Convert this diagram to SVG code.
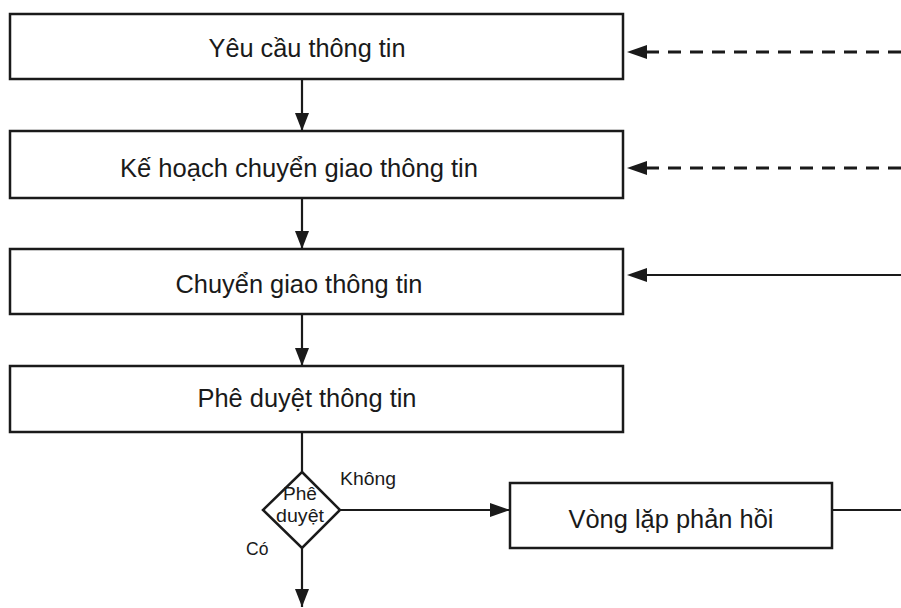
<svg xmlns="http://www.w3.org/2000/svg" width="901" height="608" viewBox="0 0 901 608">
  <style>
    .box { fill: #ffffff; stroke: #1a1a1a; stroke-width: 2.5; }
    .lbl { font-family: "Liberation Sans", Arial, sans-serif; font-size: 25px; fill: #1a1a1a; text-anchor: middle; }
    .small { font-family: "Liberation Sans", Arial, sans-serif; font-size: 17.5px; fill: #1a1a1a; }
    .line { fill: none; stroke: #1a1a1a; stroke-width: 2.2; }
    .dash { stroke-dasharray: 13 9; stroke-width: 3; }
    .head { fill: #1a1a1a; }
  </style>
  <rect width="901" height="608" fill="#ffffff"/>

  <g id="connectors">
    <!-- vertical flow -->
    <path class="line" d="M302,79 V131"/>
    <path class="line" d="M302,198 V249"/>
    <path class="line" d="M302,314 V366"/>
    <path class="line" d="M302,432 V472"/>
    <path class="line" d="M302,548 V607"/>
    <!-- decision to feedback loop -->
    <path class="line" d="M340,510 H510"/>
    <!-- inputs from the right -->
    <path class="line dash" d="M901,52 H645"/>
    <path class="line dash" d="M901,168 H645"/>
    <path class="line" d="M901,275 H645"/>
    <path class="line" d="M832,510 H901"/>
    <!-- arrowheads -->
    <path class="head" d="M302,131 L295,113 L309,113 z"/>
    <path class="head" d="M302,249 L295,231 L309,231 z"/>
    <path class="head" d="M302,366 L295,348 L309,348 z"/>
    <path class="head" d="M302,607 L295,589 L309,589 z"/>
    <path class="head" d="M510,510 L490,503 L490,517 z"/>
    <path class="head" d="M627,52 L647,45 L647,59 z"/>
    <path class="head" d="M627,168 L647,161 L647,175 z"/>
    <path class="head" d="M627,275 L647,268 L647,282 z"/>
  </g>

  <g id="yeu-cau">
    <rect class="box" x="10" y="14" width="613" height="65"/>
    <text class="lbl" x="307" y="57" textLength="197" lengthAdjust="spacingAndGlyphs">Yêu cầu thông tin</text>
  </g>
  <g id="ke-hoach">
    <rect class="box" x="10" y="131" width="613" height="67"/>
    <text class="lbl" x="299" y="177" textLength="358" lengthAdjust="spacingAndGlyphs">Kế hoạch chuyển giao thông tin</text>
  </g>
  <g id="chuyen-giao">
    <rect class="box" x="10" y="249" width="613" height="65"/>
    <text class="lbl" x="299" y="293" textLength="247" lengthAdjust="spacingAndGlyphs">Chuyển giao thông tin</text>
  </g>
  <g id="phe-duyet-tt">
    <rect class="box" x="10" y="366" width="613" height="66"/>
    <text class="lbl" x="307" y="407" textLength="219" lengthAdjust="spacingAndGlyphs">Phê duyệt thông tin</text>
  </g>
  <g id="phe-duyet">
    <path class="box" d="M302,472 L340,510 L302,548 L263,510 z"/>
    <text class="small" x="300" y="500" text-anchor="middle" textLength="34" lengthAdjust="spacingAndGlyphs">Phê</text>
    <text class="small" x="300" y="522" text-anchor="middle" textLength="48" lengthAdjust="spacingAndGlyphs">duyệt</text>
  </g>
  <g id="vong-lap">
    <rect class="box" x="510" y="483" width="322" height="65"/>
    <text class="lbl" x="671" y="528" textLength="205" lengthAdjust="spacingAndGlyphs">Vòng lặp phản hồi</text>
  </g>
  <g id="labels">
    <text class="small" x="340" y="485" textLength="56" lengthAdjust="spacingAndGlyphs">Không</text>
    <text class="small" x="246" y="555">Có</text>
  </g>
</svg>
